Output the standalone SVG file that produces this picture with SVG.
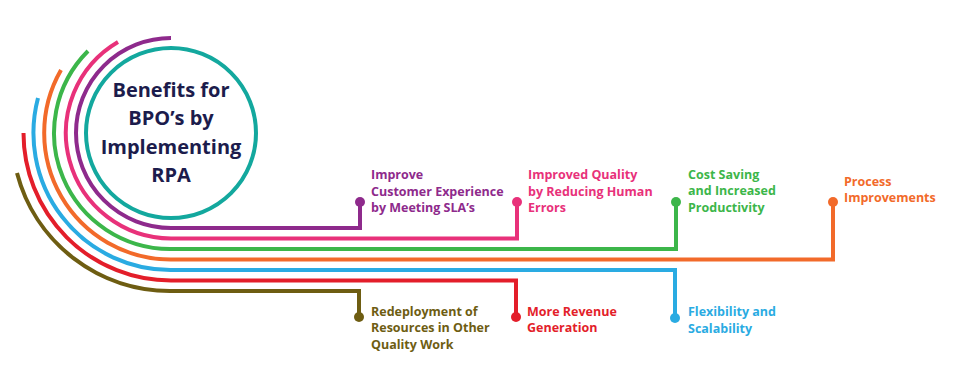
<svg xmlns="http://www.w3.org/2000/svg" width="955" height="390" viewBox="0 0 955 390">
<style>
.l{fill:none;stroke-width:4;stroke-linecap:butt;stroke-linejoin:miter}
.t{font-family:"Open Sans","Liberation Sans",sans-serif;font-weight:700;font-size:12.5px}
.h{font-family:"Open Sans","Liberation Sans",sans-serif;font-weight:700;font-size:20px;fill:#1c1c4c;text-anchor:middle}
</style>
<rect width="955" height="390" fill="#fff"/>
<g id="connectors">
<path class="l" stroke="#8e2a8c" d="M171,38 A95,95 0 0 0 76,133 A95,95 0 0 0 171,228 H360 V202"/>
<path class="l" stroke="#e8317a" d="M118,42 A105.5,105.5 0 0 0 171,238.5 H517 V202"/>
<path class="l" stroke="#3cb64a" d="M88,51 A116,116 0 0 0 171,249 H676 V202"/>
<path class="l" stroke="#f26a2a" d="M61,70 A126.5,126.5 0 0 0 171,259.5 H833 V202"/>
<path class="l" stroke="#2aabe2" d="M38,98 A137,137 0 0 0 171,270 H675 V318"/>
<path class="l" stroke="#e31e2a" d="M23.5,133 A147.5,147.5 0 0 0 171,280.5 H516 V317"/>
<path class="l" stroke="#6e5d12" d="M17,173 A158,158 0 0 0 171,291 H359 V317"/>
</g>
<g id="title">
<circle cx="171" cy="133" r="85" fill="none" stroke="#13a89e" stroke-width="4"/>
<text class="h" x="171" y="97">Benefits for</text>
<text class="h" x="171" y="125">BPO’s by</text>
<text class="h" x="171" y="154">Implementing</text>
<text class="h" x="171" y="182">RPA</text>
</g>
<g id="n1" fill="#8e2a8c">
<circle cx="360" cy="202" r="5"/>
<text class="t" x="371" y="179">Improve</text>
<text class="t" x="371" y="196">Customer Experience</text>
<text class="t" x="371" y="212">by Meeting SLA’s</text>
</g>
<g id="n2" fill="#e8317a">
<circle cx="517" cy="202" r="5"/>
<text class="t" x="528" y="179">Improved Quality</text>
<text class="t" x="528" y="196">by Reducing Human</text>
<text class="t" x="528" y="212">Errors</text>
</g>
<g id="n3" fill="#3cb64a">
<circle cx="676" cy="202" r="5"/>
<text class="t" x="688" y="179">Cost Saving</text>
<text class="t" x="688" y="195">and Increased</text>
<text class="t" x="688" y="212">Productivity</text>
</g>
<g id="n4" fill="#f26a2a">
<circle cx="833" cy="202" r="5"/>
<text class="t" x="844" y="186">Process</text>
<text class="t" x="844" y="202">Improvements</text>
</g>
<g id="n5" fill="#2aabe2">
<circle cx="675" cy="318" r="5"/>
<text class="t" x="688" y="316">Flexibility and</text>
<text class="t" x="688" y="333">Scalability</text>
</g>
<g id="n6" fill="#e31e2a">
<circle cx="516" cy="317" r="5"/>
<text class="t" x="527" y="316">More Revenue</text>
<text class="t" x="527" y="332">Generation</text>
</g>
<g id="n7" fill="#6e5d12">
<circle cx="359" cy="317" r="5"/>
<text class="t" x="371" y="316">Redeployment of</text>
<text class="t" x="371" y="332">Resources in Other</text>
<text class="t" x="371" y="349">Quality Work</text>
</g>
</svg>
